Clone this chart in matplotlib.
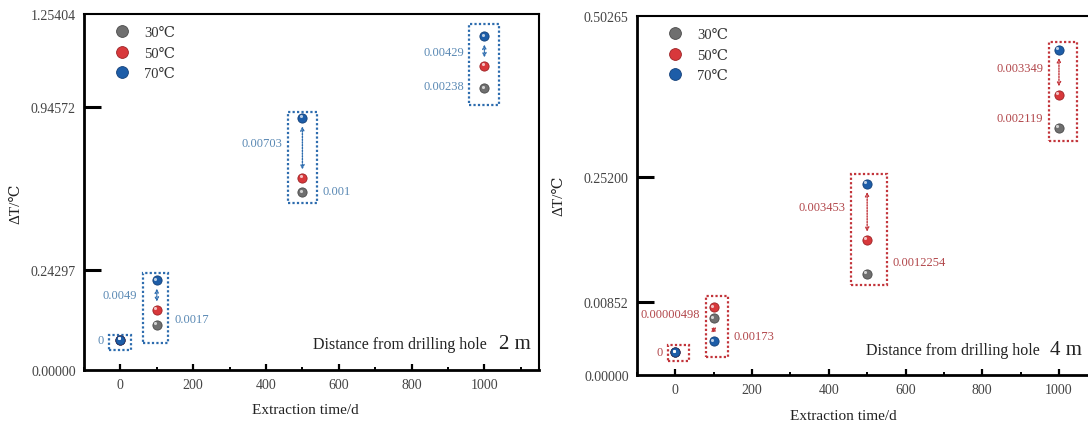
import numpy as np
import matplotlib
matplotlib.use('Agg')
import matplotlib.pyplot as plt
from matplotlib.lines import Line2D
from matplotlib.patches import Rectangle
from matplotlib.ticker import FixedLocator, FuncFormatter, MultipleLocator
from matplotlib.transforms import ScaledTranslation, blended_transform_factory

plt.rcParams['font.family'] = ['Liberation Serif', 'DejaVu Serif']

# kitermelesi ido (nap) es homersekletek
days = [0, 100, 500, 1000]
temps = ['30℃', '50℃', '70℃']

# 2 m-re a furolyuktol
yticks_2m = [0.0, 0.24297, 0.94572, 1.25404]
dt30_2m = [0.0731, 0.1089, 0.577, 1.007]
dt50_2m = [0.0731, 0.1455, 0.640, 1.082]
dt70_2m = [0.0731, 0.2179, 0.897, 1.180]
# (nap index, felirat, felso sor, also sor, arany, oldal)
notes_2m = [(0, '0', 2, 2, 0.0, 'left'),
            (1, '0.0049', 2, 1, 0.48, 'left'),
            (1, '0.0017', 1, 0, 0.60, 'right'),
            (2, '0.00703', 2, 1, 0.42, 'left'),
            (2, '0.001', 1, 0, 0.93, 'right'),
            (3, '0.00429', 2, 1, 0.54, 'left'),
            (3, '0.00238', 1, 0, 0.91, 'left')]
arrows_2m = [(1, 2, 1), (2, 2, 1), (3, 2, 1)]

# 4 m-re a furolyuktol
yticks_4m = [0.0, 0.00852, 0.25200, 0.50265]
dt30_4m = [0.00261, 0.00658, 0.0631, 0.3278]
dt50_4m = [0.00261, 0.00787, 0.1287, 0.3797]
dt70_4m = [0.00261, 0.0039, 0.2384, 0.4497]
notes_4m = [(0, '0', 2, 2, 0.0, 'left'),
            (1, '0.00000498', 1, 0, 0.60, 'left'),
            (1, '0.00173', 0, 2, 0.78, 'right'),
            (2, '0.003453', 2, 1, 0.42, 'left'),
            (2, '0.0012254', 1, 0, 0.66, 'right'),
            (3, '0.003349', 2, 1, 0.41, 'left'),
            (3, '0.002119', 1, 0, 0.71, 'left')]
arrows_4m = [(1, 0, 2), (2, 2, 1), (3, 2, 1)]

colors = ['#6f6f6f', '#d8383b', '#1d5da8']
edges = ['#4a4a4a', '#9c2225', '#123f78']

W, H = 1088, 427
fig = plt.figure(figsize=(W / 100, H / 100), dpi=100)


def panel(rect, yticks, fracs, series, notes, arrows, boxes, box_c, txt_c,
          dist, dist_pos, leg_anchor, ylab_pos, xlab_pos):
    ax = fig.add_axes(rect)
    hpx = rect[3] * H

    # szakaszosan linearis y tengely
    fwd = lambda v: np.interp(v, yticks, fracs)
    inv = lambda f: np.interp(f, fracs, yticks)
    ax.set_yscale('function', functions=(fwd, inv))
    ax.set_ylim(yticks[0], yticks[-1])
    ax.set_xlim(-100, 1150)
    ax.yaxis.set_major_locator(FixedLocator(yticks))
    ax.yaxis.set_major_formatter(FuncFormatter(lambda v, p: '%.5f' % v))
    ax.yaxis.set_minor_locator(FixedLocator([]))
    ax.xaxis.set_major_locator(FixedLocator([0, 200, 400, 600, 800, 1000]))
    ax.xaxis.set_minor_locator(MultipleLocator(100))

    ax.tick_params(axis='y', direction='in', length=12, width=2.2,
                   labelsize=10, labelcolor='#444444', pad=6)
    ax.tick_params(axis='x', which='major', direction='in', length=4,
                   width=1.6, labelsize=10, labelcolor='#444444', pad=6)
    ax.tick_params(axis='x', which='minor', direction='in', length=2.5,
                   width=1.4)
    for s in ['left', 'bottom']:
        ax.spines[s].set_linewidth(2.0)
    for s in ['top', 'right']:
        ax.spines[s].set_linewidth(1.5)

    # a szelso y osztasok vonala a kereten ulne, azokat elrejtjuk
    fig.canvas.draw()
    yt = ax.yaxis.get_major_ticks()
    for t in (yt[0], yt[-1]):
        t.tick1line.set_visible(False)

    # meresi pontok, golyo hatassal
    hl = ax.transData + ScaledTranslation(-1.2 / 72, 1.2 / 72, fig.dpi_scale_trans)
    for vals, c, e in zip(series, colors, edges):
        ax.scatter(days, vals, s=44, color=c, edgecolors=e, linewidths=0.6,
                   zorder=4, clip_on=False)
        ax.scatter(days, vals, s=5, color='white', alpha=0.7, lw=0,
                   zorder=5, transform=hl, clip_on=False)

    # pontozott keretek
    tr = blended_transform_factory(ax.transData, ax.transAxes)
    for i, (xc, hw, ptop, pbot) in enumerate(boxes):
        col = [s[i] for s in series]
        top = fwd(max(col)) + ptop / hpx
        bot = fwd(min(col)) - pbot / hpx
        ax.add_patch(Rectangle((xc - hw, bot), 2 * hw, top - bot, transform=tr,
                               fill=False, ec=box_c, lw=1.6,
                               ls=(0, (1, 1)), zorder=3))

    # kulonbsegek feliratai
    for i, txt, a, b, t, side in notes:
        fa, fb = fwd(series[a][i]), fwd(series[b][i])
        fy = fa + (fb - fa) * t
        xc, hw = boxes[i][0], boxes[i][1]
        if side == 'left':
            ax.annotate(txt, (xc - hw, fy), xycoords=tr, xytext=(-4, 0),
                        textcoords='offset points', ha='right', va='center',
                        fontsize=9, color=txt_c)
        else:
            ax.annotate(txt, (xc + hw, fy), xycoords=tr, xytext=(4, 0),
                        textcoords='offset points', ha='left', va='center',
                        fontsize=9, color=txt_c)

    for i, a, b in arrows:
        ax.annotate('', xy=(days[i], series[b][i]), xytext=(days[i], series[a][i]),
                    arrowprops=dict(arrowstyle='<->', color=box_c, lw=1.0,
                                    ls=(0, (1, 1)), shrinkA=6, shrinkB=6,
                                    mutation_scale=6), zorder=3)

    handles = [Line2D([], [], ls='', marker='o', ms=8.5, color=c, mec=e, mew=0.6)
               for c, e in zip(colors, edges)]
    ax.legend(handles, temps, loc='upper left', bbox_to_anchor=leg_anchor,
              frameon=False, fontsize=10.5, handlelength=1.0,
              handletextpad=1.0, labelspacing=0.5, borderpad=0,
              borderaxespad=0, labelcolor='#333333')

    ax.text(dist_pos[0], dist_pos[2], 'Distance from drilling hole',
            transform=ax.transAxes, ha='right', va='baseline', fontsize=11.5,
            color='#222222')
    ax.text(dist_pos[1], dist_pos[2], dist, transform=ax.transAxes,
            ha='left', va='baseline', fontsize=15, color='#222222')

    ax.set_ylabel('ΔT/℃', fontsize=11, color='#222222')
    ax.yaxis.set_label_coords(*ylab_pos)
    ax.set_xlabel('Extraction time/d', fontsize=11, color='#222222')
    ax.xaxis.set_label_coords(*xlab_pos)
    return ax


panel([84 / W, 1 - 370.7 / H, 455 / W, 355.7 / H],
      yticks_2m, [0, 0.2803, 0.7394, 1.0],
      [dt30_2m, dt50_2m, dt70_2m], notes_2m, arrows_2m,
      [(-1, 29, 5, 10), (97, 35, 7, 18), (501, 40, 6, 11), (999, 40, 12, 17)],
      '#2d6cae', '#5a89b4', '2 m', (0.886, 0.912, 0.060),
      (0.0675, 0.966), (-0.136, 0.47), (0.486, -0.094))

panel([637 / W, 1 - 375.7 / H, 479.5 / W, 359 / H],
      yticks_4m, [0, 0.2033, 0.5515, 1.0],
      [dt30_4m, dt50_4m, dt70_4m], notes_4m, arrows_4m,
      [(8, 27, 7, 9), (108, 28, 11, 16), (505, 46, 10, 11), (1011, 37, 8, 13)],
      '#c2343a', '#b2474b', '4 m', (0.840, 0.862, 0.058),
      (0.064, 0.966), (-0.150, 0.50), (0.43, -0.096))

fig.savefig('out.png', dpi=100)
